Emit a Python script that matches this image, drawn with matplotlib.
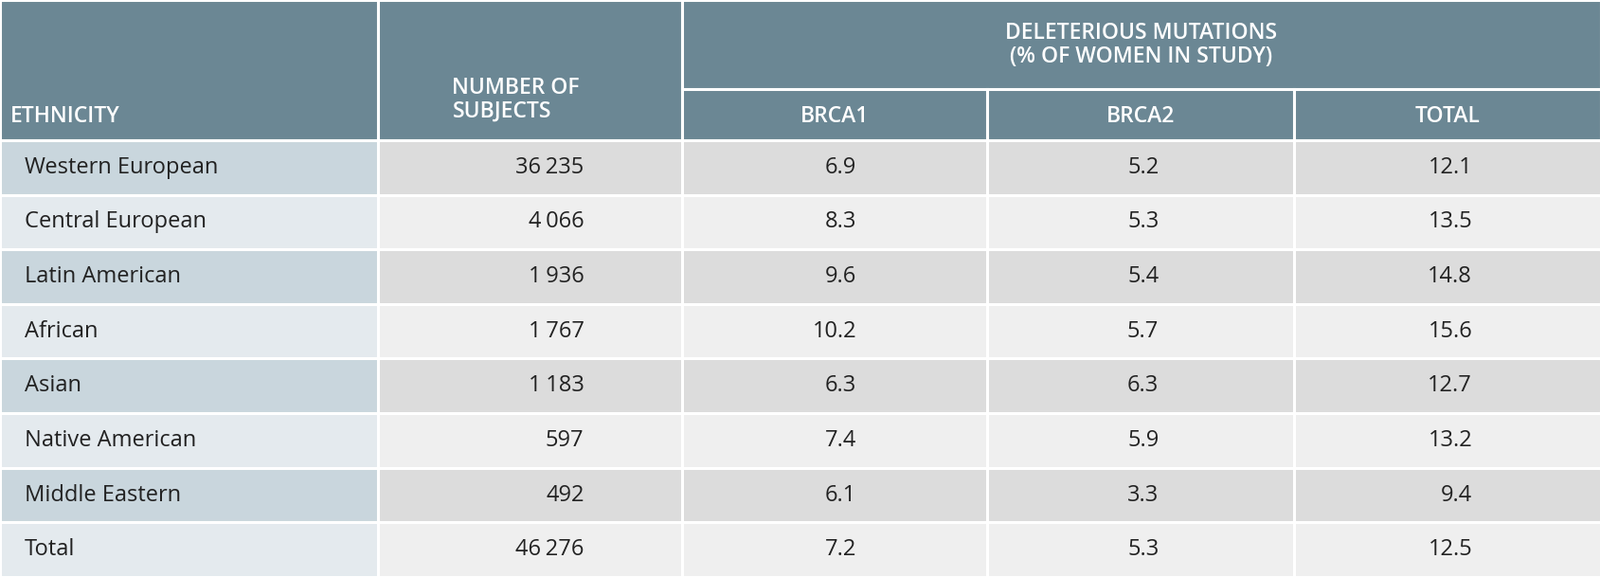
import matplotlib
matplotlib.use("Agg")
import matplotlib.pyplot as plt
from matplotlib.patches import Rectangle

ethnicity = ["Western European", "Central European", "Latin American", "African",
             "Asian", "Native American", "Middle Eastern", "Total"]
subjects = ["36\u2009235", "4\u2009066", "1\u2009936", "1\u2009767", "1\u2009183", "597", "492", "46\u2009276"]
brca1 = [6.9, 8.3, 9.6, 10.2, 6.3, 7.4, 6.1, 7.2]
brca2 = [5.2, 5.3, 5.4, 5.7, 6.3, 5.9, 3.3, 5.3]
total = [12.1, 13.5, 14.8, 15.6, 12.7, 13.2, 9.4, 12.5]

W, H = 1568, 568
fig = plt.figure(figsize=(16.9, 6.09), dpi=100)
ax = fig.add_axes([0, 0, 1, 1])
ax.set_xlim(0, W); ax.set_ylim(H, 0); ax.axis("off")

cols = [0, 370, 668, 967, 1267, W]
hdr_bot, sub_line = 138, 88
rh = (H - hdr_bot) / len(ethnicity)
hc = "#6b8794"
lw = 2.2
font = "Open Sans"

def rect(x0, y0, x1, y1, c):
    ax.add_patch(Rectangle((x0, y0), x1 - x0, y1 - y0, facecolor=c, edgecolor="white", lw=lw))

rect(0, 0, cols[1], hdr_bot, hc)
rect(cols[1], 0, cols[2], hdr_bot, hc)
rect(cols[2], 0, W, sub_line, hc)
for i in range(2, 5):
    rect(cols[i], sub_line, cols[i + 1], hdr_bot, hc)
hk = dict(color="white", fontsize=16.5, fontfamily=font, fontweight="semibold")
ax.text(10, 115, "ETHNICITY", ha="left", va="center", **hk)
ax.text(443, 98, "NUMBER OF\nSUBJECTS", ha="left", va="center", multialignment="left", linespacing=1.05, **hk)
ax.text((cols[2] + W) / 2, 44, "DELETERIOUS MUTATIONS\n(% OF WOMEN IN STUDY)", ha="center", va="center", linespacing=1.05, **hk)
for i, t in zip(range(2, 5), ["BRCA1", "BRCA2", "TOTAL"]):
    ax.text((cols[i] + cols[i + 1]) / 2, 115, t, ha="center", va="center", **hk)

bk = dict(color="#222222", fontsize=17, fontfamily=font, va="center")
for r in range(len(ethnicity)):
    y0 = hdr_bot + r * rh
    y1 = y0 + rh
    yc = (y0 + y1) / 2
    even = r % 2 == 0
    rect(0, y0, cols[1], y1, "#c9d6dd" if even else "#e4eaee")
    for i in range(1, 5):
        rect(cols[i], y0, cols[i + 1], y1, "#dcdcdc" if even else "#efefef")
    ax.text(24, yc, ethnicity[r], ha="left", **bk)
    ax.text(572, yc, subjects[r], ha="right", **bk)
    ax.text(839, yc, f"{brca1[r]:.1f}", ha="right", **bk)
    ax.text(1135, yc, f"{brca2[r]:.1f}", ha="right", **bk)
    ax.text(1442, yc, f"{total[r]:.1f}", ha="right", **bk)

fig.savefig("out.png", dpi=100)
